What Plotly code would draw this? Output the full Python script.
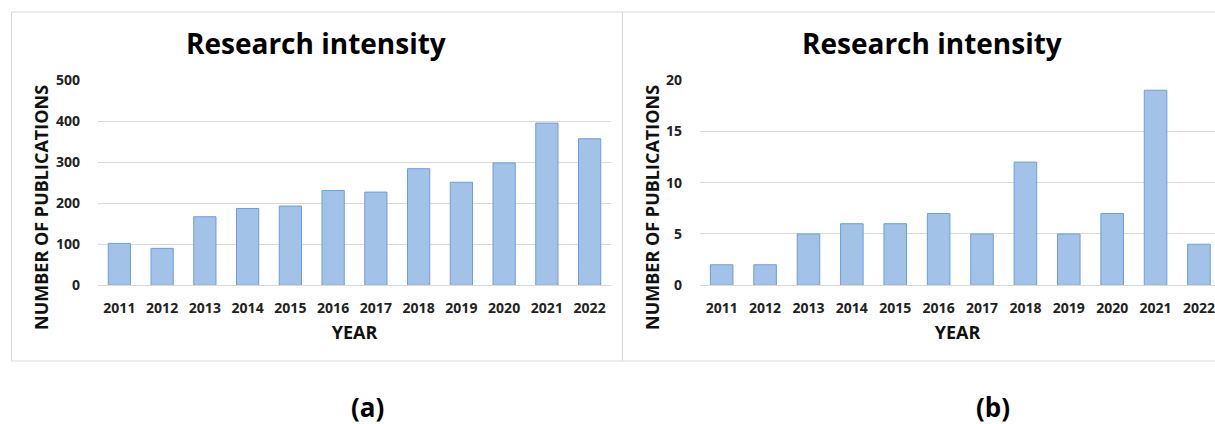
import plotly.graph_objects as go

years = ["2011", "2012", "2013", "2014", "2015", "2016", "2017", "2018", "2019", "2020", "2021", "2022"]
pubs_a = [102, 90, 167, 187, 193, 231, 227, 284, 251, 298, 395, 357]
pubs_b = [2, 2, 5, 6, 6, 7, 5, 12, 5, 7, 19, 4]
ticks_a = [0, 100, 200, 300, 400, 500]
ticks_b = [0, 5, 10, 15, 20]
title_text = "Research intensity"
x_title = "YEAR"
y_title = "NUMBER OF PUBLICATIONS"
panel_labels = ["(a)", "(b)"]

W, H = 1215, 424
FONT = "Open Sans"
BAR_FILL = "#a3c2e8"
BAR_LINE = "#6a9fdc"
GRID = "#d9d9d9"

def px(x):
    return x / W

def py(y):
    return 1 - y / H

fig = go.Figure()
fig.add_trace(go.Bar(x=years, y=pubs_a, xaxis="x", yaxis="y",
                     marker=dict(color=BAR_FILL, line=dict(color=BAR_LINE, width=1)),
                     width=0.52, showlegend=False))
fig.add_trace(go.Bar(x=years, y=pubs_b, xaxis="x2", yaxis="y2",
                     marker=dict(color=BAR_FILL, line=dict(color=BAR_LINE, width=1)),
                     width=0.52, showlegend=False))

tickfont = dict(family=FONT, size=14, color="#222222", weight="bold")
titlefont = dict(family=FONT, size=18, color="#111111", weight="bold")

ydom = [py(285.3), py(80)]
fig.update_layout(
    width=W, height=H,
    margin=dict(l=0, r=0, t=0, b=0, pad=0, autoexpand=False),
    paper_bgcolor="white", plot_bgcolor="white",
    font=dict(family=FONT),
    xaxis=dict(domain=[px(98), px(611)], type="category", range=[-0.5, 11.5],
               automargin=False,
               showgrid=False, showline=True, linecolor=GRID, linewidth=1,
               ticks="", tickfont=tickfont, ticklabelstandoff=10,
               title=dict(text=x_title, font=titlefont, standoff=10),
               anchor="y"),
    yaxis=dict(domain=ydom, range=[0, 500], tickvals=ticks_a, automargin=False,
               showgrid=True, gridcolor=GRID, gridwidth=1, zeroline=False,
               showline=False, ticks="", tickfont=tickfont, ticklabelstandoff=17,
               anchor="x"),
    xaxis2=dict(domain=[px(700), 1.0], type="category", range=[-0.5, 11.37],
                automargin=False,
                showgrid=False, showline=True, linecolor=GRID, linewidth=1,
                ticks="", tickfont=tickfont, ticklabelstandoff=10,
                title=dict(text=x_title, font=titlefont, standoff=10),
                anchor="y2"),
    yaxis2=dict(domain=ydom, range=[0, 20], tickvals=ticks_b, automargin=False,
                showgrid=True, gridcolor=GRID, gridwidth=1, zeroline=False,
                showline=False, ticks="", tickfont=tickfont, ticklabelstandoff=17,
                anchor="x2"),
)

# panel borders
fig.add_shape(type="rect", xref="paper", yref="paper",
              x0=px(11.5), x1=px(622.5), y0=py(361), y1=py(12),
              line=dict(color=GRID, width=1), fillcolor="rgba(0,0,0,0)", layer="below")
fig.add_shape(type="rect", xref="paper", yref="paper",
              x0=px(622.5), x1=px(1260), y0=py(361), y1=py(12),
              line=dict(color=GRID, width=1), fillcolor="rgba(0,0,0,0)", layer="below")

# chart titles
for cx in (316, 932):
    fig.add_annotation(text=title_text, xref="paper", yref="paper",
                       x=px(cx), y=py(43), xanchor="center", yanchor="middle",
                       showarrow=False,
                       font=dict(family=FONT, size=28, color="#000000", weight="bold"))

# y-axis titles (centred on the chart area, lower than the plot centre)
for cx in (41, 652):
    fig.add_annotation(text=y_title, xref="paper", yref="paper",
                       x=px(cx), y=py(208), xanchor="center", yanchor="middle",
                       textangle=-90, showarrow=False, font=titlefont)

# panel labels
for lbl, cx in zip(panel_labels, (367, 993)):
    fig.add_annotation(text=lbl, xref="paper", yref="paper",
                       x=px(cx), y=py(407), xanchor="center", yanchor="middle",
                       showarrow=False,
                       font=dict(family=FONT, size=26, color="#000000", weight="bold"))

# pin the chart to the page's top-left corner so it fills the window exactly
pin = ("document.body.style.margin='0';"
       "var gd=document.getElementById('{plot_id}');"
       "gd.style.position='fixed';gd.style.left='0';gd.style.top='0';")

fig.write_html("out.html", post_script=pin, config={"displayModeBar": False})
